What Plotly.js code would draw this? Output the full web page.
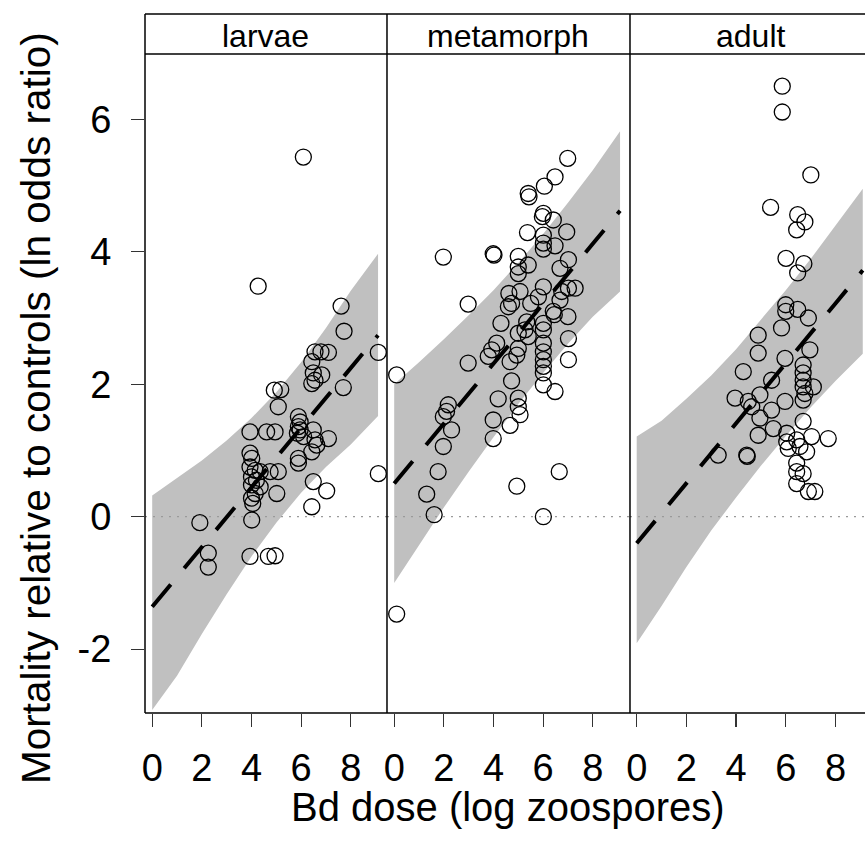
<!DOCTYPE html>
<html>
<head>
<meta charset="utf-8">
<script src="https://cdn.plot.ly/plotly-3.0.1.min.js"></script>
<style>html,body{margin:0;padding:0;background:#fff;}#chart{width:865px;height:843px;}</style>
</head>
<body>
<div id="chart"></div>
<script>
// ---- panels ----
const panels = ["larvae", "metamorph", "adult"];

// ---- observed points (Bd dose, ln odds ratio) ----
const larvaeX = [6.09,4.27,7.61,7.73,9.11,6.80,7.10,6.56,6.43,6.49,6.56,6.43,6.83,7.70,4.92,5.18,5.08,3.94,4.61,4.95,5.89,5.96,5.89,5.96,5.85,6.10,6.49,6.56,7.10,6.63,6.43,5.89,5.89,3.94,4.01,3.94,4.15,4.35,4.00,4.20,4.00,4.35,4.15,4.00,4.05,4.75,5.08,5.02,6.49,7.03,6.43,4.01,3.94,4.68,4.95,9.11,1.92,2.26,2.26];
const larvaeY = [5.43,3.48,3.18,2.80,2.48,2.49,2.48,2.49,2.34,2.17,2.06,2.01,2.14,1.95,1.91,1.92,1.66,1.28,1.28,1.28,1.51,1.43,1.36,1.31,1.26,1.21,1.31,1.16,1.18,1.08,0.98,0.88,0.81,0.96,0.88,0.75,0.70,0.68,0.60,0.55,0.48,0.45,0.35,0.28,0.20,0.68,0.68,0.35,0.53,0.39,0.15,-0.05,-0.60,-0.60,-0.59,0.65,-0.09,-0.55,-0.76];

const metaX = [6.99,6.48,6.05,5.40,5.43,6.01,5.97,6.41,5.37,6.95,6.01,6.01,6.01,6.48,1.98,3.99,4.02,5.00,5.00,5.00,5.40,7.02,6.68,2.98,4.62,4.73,4.60,5.07,6.01,5.81,7.29,7.02,6.75,6.68,4.30,5.50,6.41,6.45,7.00,5.34,5.27,6.01,6.01,5.00,7.02,4.13,3.93,3.79,5.00,4.94,4.67,6.01,6.01,6.01,6.01,6.01,7.02,2.98,4.73,6.01,6.48,4.19,5.00,5.00,5.07,4.67,3.99,3.99,2.18,2.11,1.98,2.31,1.98,1.77,1.31,1.61,4.94,6.65,6.01,0.10,0.10,5.40];
const metaY = [5.41,5.13,4.99,4.88,4.83,4.58,4.53,4.48,4.29,4.30,4.25,4.13,4.04,4.09,3.92,3.97,3.95,3.93,3.77,3.67,3.80,3.88,3.75,3.21,3.37,3.22,3.17,3.40,3.47,3.32,3.45,3.45,3.40,3.27,2.92,3.22,3.10,3.05,3.02,2.94,2.82,2.92,2.82,2.77,2.69,2.62,2.52,2.42,2.54,2.44,2.34,2.62,2.49,2.37,2.27,2.17,2.37,2.32,2.05,1.99,1.89,1.78,1.79,1.66,1.54,1.38,1.46,1.18,1.69,1.59,1.51,1.31,1.06,0.68,0.34,0.03,0.46,0.68,0.00,2.14,-1.47,2.72];

const adultX = [5.86,5.86,7.01,5.39,6.48,6.77,6.44,6.01,6.73,6.48,6.00,6.00,6.48,6.91,5.83,4.89,4.89,6.97,5.97,4.29,6.70,6.70,6.70,6.70,6.77,6.70,7.11,5.43,3.96,4.96,4.63,4.49,5.43,5.97,4.96,4.89,5.50,6.70,6.04,6.04,6.10,6.44,6.57,6.84,7.04,7.71,4.43,4.45,3.28,6.44,6.44,6.70,6.44,6.91,7.17];
const adultY = [6.50,6.11,5.16,4.67,4.56,4.45,4.33,3.90,3.82,3.68,3.20,3.10,3.13,3.00,2.85,2.74,2.47,2.52,2.39,2.19,2.29,2.17,2.06,1.96,1.86,1.76,1.96,2.06,1.79,1.84,1.66,1.74,1.61,1.74,1.49,1.23,1.33,1.44,1.26,1.13,1.03,1.16,1.06,0.98,1.21,1.18,0.93,0.91,0.93,0.81,0.68,0.65,0.50,0.38,0.38];

// ---- fitted line and confidence band ----
const bandX = [0,1,2,3,4,5,6,7,8,9.1];
const larvaeFit = [-1.36,-0.91,-0.46,-0.01,0.44,0.90,1.35,1.80,2.25,2.74];
const larvaeUp  = [0.32,0.58,0.85,1.15,1.49,1.88,2.33,2.85,3.41,3.97];
const larvaeLo  = [-2.92,-2.40,-1.77,-1.17,-0.60,-0.09,0.36,0.75,1.09,1.52];
const metaFit = [0.50,0.95,1.41,1.86,2.31,2.77,3.22,3.67,4.12,4.62];
const metaUp  = [2.00,2.33,2.68,3.04,3.42,3.83,4.27,4.74,5.23,5.82];
const metaLo  = [-1.00,-0.43,0.14,0.68,1.20,1.70,2.17,2.61,3.02,3.40];
const adultFit = [-0.40,0.05,0.51,0.96,1.41,1.87,2.32,2.77,3.22,3.72];
const adultUp  = [1.21,1.45,1.78,2.13,2.53,2.97,3.42,3.89,4.39,4.95];
const adultLo  = [-1.91,-1.35,-0.76,-0.21,0.29,0.77,1.22,1.65,2.05,2.46];

const xTicks = [0,2,4,6,8];
const yTicks = [-2,0,2,4,6];
const refLevel = 0;

// ---- build ----
const ptsX = [larvaeX, metaX, adultX];
const ptsY = [larvaeY, metaY, adultY];
const fits = [larvaeFit, metaFit, adultFit];
const ups = [larvaeUp, metaUp, adultUp];
const los = [larvaeLo, metaLo, adultLo];

const FONT = "Liberation Sans, Arial, Helvetica, sans-serif";
const TFONT = "Liberation Sans Narrow, Arial Narrow, Liberation Sans, sans-serif";
const xr = [[-0.29, 9.46], [-0.29, 9.50], [-0.27, 9.19]];
const traces = [];
for (let i = 0; i < 3; i++) {
  const xa = i === 0 ? "x" : "x" + (i + 1);
  const ya = i === 0 ? "y" : "y" + (i + 1);
  traces.push({
    type: "scatter", mode: "lines", xaxis: xa, yaxis: ya,
    x: bandX.concat(bandX.slice().reverse()),
    y: ups[i].concat(los[i].slice().reverse()),
    fill: "toself", fillcolor: "#c0c0c0", line: {width: 0, color: "rgba(0,0,0,0)"},
    hoverinfo: "skip", showlegend: false
  });
  traces.push({
    type: "scatter", mode: "lines", xaxis: xa, yaxis: ya,
    x: xr[i], y: [refLevel, refLevel],
    line: {color: "#9a9a9a", width: 1.3, dash: "2px,6px"},
    showlegend: false
  });
  traces.push({
    type: "scatter", mode: "lines", xaxis: xa, yaxis: ya,
    x: bandX, y: fits[i],
    line: {color: "#000", width: 4, dash: "29px,21px"},
    showlegend: false
  });
  traces.push({
    type: "scatter", mode: "markers", xaxis: xa, yaxis: ya,
    x: ptsX[i], y: ptsY[i],
    marker: {symbol: "circle-open", size: 16, color: "#000", line: {width: 1.3, color: "#000"}},
    showlegend: false
  });
}

const doms = [[0, 0.3361], [0.3361, 0.6736], [0.6736, 1]];
const yr = [-2.964, 6.986];
const layout = {
  width: 865, height: 843,
  margin: {l: 145, r: 0, t: 54, b: 130},
  paper_bgcolor: "#fff", plot_bgcolor: "#fff",
  font: {family: FONT, color: "#000"},
  showlegend: false,
  shapes: [], annotations: []
};
for (let i = 0; i < 3; i++) {
  const sx = i === 0 ? "" : String(i + 1);
  layout["xaxis" + sx] = {
    domain: doms[i], range: xr[i], anchor: "y" + sx,
    tickvals: xTicks, ticktext: xTicks.map(String),
    ticks: "outside", ticklen: 13, tickwidth: 1.2, tickcolor: "#333",
    tickfont: {size: 38, family: TFONT, color: "#000"}, ticklabelstandoff: 8,
    showgrid: false, zeroline: false, showline: false, fixedrange: true
  };
  layout["yaxis" + sx] = {
    domain: [0, 1], range: yr, anchor: "x" + sx,
    showgrid: false, zeroline: false, showline: false, fixedrange: true,
    tickvals: yTicks, ticktext: yTicks.map(String),
    ticks: i === 0 ? "outside" : "", ticklen: 13, tickwidth: 1.2, tickcolor: "#333",
    showticklabels: i === 0,
    tickfont: {size: 38, family: TFONT, color: "#000"}, ticklabelstandoff: 12
  };
  layout.annotations.push({
    text: panels[i], xref: "paper", yref: "paper",
    x: (doms[i][0] + (i === 2 ? doms[i][0] + 242 / 720 : doms[i][1])) / 2, y: 1.027,
    xanchor: "center", yanchor: "middle", showarrow: false,
    font: {size: 32, family: FONT, color: "#000"}
  });
}
const stripTop = (713 - 14) / 659;
const L = {color: "#000", width: 1.5};
layout.shapes.push(
  {type: "line", xref: "paper", yref: "paper", x0: 0, x1: 0, y0: 0, y1: stripTop, line: L},
  {type: "line", xref: "paper", yref: "paper", x0: 0, x1: 1, y0: 0, y1: 0, line: L},
  {type: "line", xref: "paper", yref: "paper", x0: 0, x1: 1, y0: 1, y1: 1, line: L},
  {type: "line", xref: "paper", yref: "paper", x0: 0, x1: 1, y0: stripTop, y1: stripTop, line: L},
  {type: "line", xref: "paper", yref: "paper", x0: doms[0][1], x1: doms[0][1], y0: 0, y1: stripTop, line: L},
  {type: "line", xref: "paper", yref: "paper", x0: doms[1][1], x1: doms[1][1], y0: 0, y1: stripTop, line: L}
);
layout.annotations.push(
  {text: "Bd dose (log zoospores)", xref: "paper", yref: "paper", x: 0.504, y: -0.142,
   xanchor: "center", yanchor: "middle", showarrow: false, font: {size: 40, family: FONT, color: "#000"}},
  {text: "Mortality relative to controls (ln odds ratio)", xref: "paper", yref: "paper", x: -0.152, y: 0.462,
   xanchor: "center", yanchor: "middle", textangle: -90, showarrow: false, font: {size: 40.5, family: FONT, color: "#000"}}
);
Plotly.newPlot("chart", traces, layout, {displayModeBar: false, staticPlot: true});
</script>
</body>
</html>
